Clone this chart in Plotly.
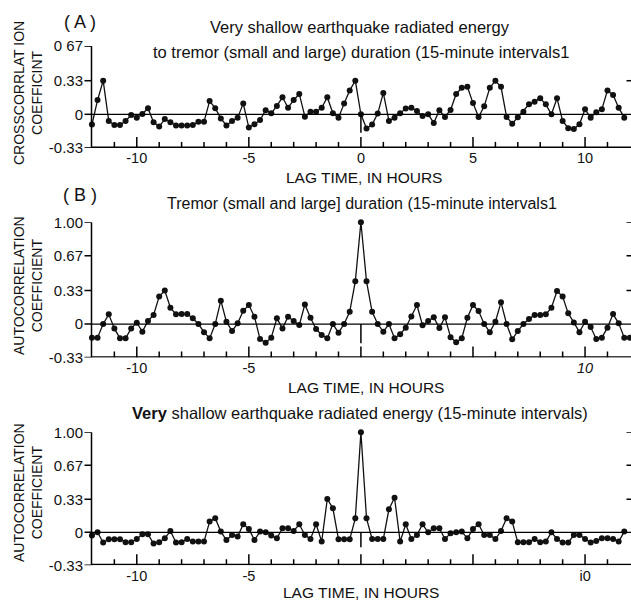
import numpy as np
import plotly.graph_objects as go

W, H = 631, 600

# ---------------- data ----------------
lag_a = np.arange(-12.0, 11.76, 0.25)   # 15-minute lags, hours
lag_b = np.arange(-12.0, 12.01, 0.25)
lag_c = np.arange(-12.0, 11.76, 0.25)

cross_a = [
    -0.10, 0.14, 0.33, -0.065, -0.105, -0.105, -0.065, -0.007, -0.033, 0.003,
    0.06, -0.078, -0.12, -0.046, -0.078, -0.11, -0.11, -0.11, -0.105, -0.072,
    -0.072, 0.13, 0.06, -0.04, -0.11, -0.065, -0.033, 0.105, -0.13, -0.098,
    -0.056, 0.04, 0.01, 0.082, 0.167, 0.065, 0.14, 0.20, -0.023, 0.026,
    0.026, 0.065, 0.167, 0.01, -0.033, 0.105, 0.235, 0.33, 0.0, -0.14,
    -0.10, 0.007, 0.21, -0.065, -0.033, 0.01, 0.056, 0.065, 0.033, -0.016,
    0.0, -0.085, 0.04, -0.026, 0.043, 0.20, 0.26, 0.27, 0.11, -0.026,
    0.078, 0.26, 0.33, 0.27, -0.026, -0.092, -0.03, 0.026, 0.098, 0.124,
    0.157, 0.098, 0.0, 0.157, -0.065, -0.137, -0.144, -0.098, 0.049, -0.033,
    0.02, 0.049, 0.235, 0.19, 0.065, -0.033,
]

auto_b = [
    -0.134, -0.134, 0.0, 0.095, -0.043, -0.141, -0.141, -0.043, 0.013, -0.075,
    0.03, 0.089, 0.27, 0.33, 0.16, 0.095, 0.098, 0.098, 0.056, 0.0,
    -0.08, -0.141, 0.0, 0.23, 0.023, -0.069, 0.007, 0.13, 0.187, 0.072,
    -0.148, -0.184, -0.134, 0.056, -0.043, 0.072, 0.03, -0.01, 0.193, 0.062,
    -0.049, -0.108, -0.141, 0.0, -0.085, 0.0, 0.12, 0.42, 1.00, 0.42,
    0.12, 0.0, -0.075, 0.0, -0.14, -0.10, -0.036, 0.075, 0.187, -0.013,
    0.03, 0.066, -0.04, 0.066, -0.13, -0.18, -0.14, 0.062, 0.187, 0.128,
    0.0, -0.08, 0.023, 0.213, 0.0, -0.15, -0.069, 0.0, 0.05, 0.089,
    0.089, 0.095, 0.16, 0.325, 0.27, 0.105, 0.016, -0.08, 0.023, -0.03,
    -0.148, -0.134, -0.036, 0.098, 0.007, -0.134, -0.134,
]

auto_c = [
    -0.033, 0.0, -0.103, -0.07, -0.07, -0.07, -0.10, -0.10, -0.067, -0.02,
    -0.02, -0.113, -0.10, -0.06, 0.013, -0.103, -0.10, -0.067, -0.093, -0.093,
    -0.093, 0.107, 0.14, 0.007, -0.077, -0.027, -0.043, 0.08, 0.033, -0.077,
    0.007, 0.0, -0.033, -0.06, 0.04, 0.04, 0.013, 0.08, -0.027, -0.067,
    0.08, -0.093, 0.333, 0.24, -0.07, -0.07, -0.07, 0.14, 1.00, 0.14,
    -0.067, -0.067, -0.067, 0.23, 0.345, -0.093, 0.08, -0.067, -0.027, 0.08,
    0.0, 0.04, 0.04, -0.067, -0.01, 0.0, 0.007, -0.06, 0.033, 0.08,
    -0.027, -0.027, -0.067, 0.013, 0.14, 0.107, -0.10, -0.10, -0.10, -0.067,
    -0.10, -0.093, 0.0, -0.067, -0.103, -0.103, -0.027, -0.027, -0.067, -0.103,
    -0.087, -0.06, -0.06, -0.067, -0.093, 0.007,
]

x_tickvals = [-10, -5, 0, 5, 10]
x_minorvals = [-11, -9, -8, -7, -6, -4, -3, -2, -1, 1, 2, 3, 4, 6, 7, 8, 9, 11]
x_ticktext_a = ["-10", "-5", "0", "5", "10"]
x_ticktext_b = ["-10", "-5", "", "", "<i>10</i>"]
x_ticktext_c = ["-10", "-5", "", "", "i0"]

y_tickvals_a = [-0.33, 0, 0.33, 0.67]
y_ticktext_a = ["-0.33", "0", "0.33", "0 67"]
y_tickvals_bc = [-0.33, 0, 0.33, 0.67, 1.0]
y_ticktext_bc = ["-0.33", "0", "0.33", "0.67", "1.00"]

title_a1 = "Very shallow earthquake radiated energy"
title_a2 = "to tremor (small and large) duration (15-minute intervals1"
title_b = "Tremor (small and large] duration (15-minute intervals1"
title_c = "<b>Very</b> shallow earthquake radiated energy (15-minute intervals)"
xlabel = "LAG TIME, IN HOURS"
ylabel_a = "CROSSCORRLAT ION<br>COEFFICINT"
ylabel_bc = "AUTOCORRELATION<br>COEFFICIENT"

# ---------------- figure ----------------
FONT = "Liberation Sans, Arial, Helvetica, sans-serif"
INK = "#111111"
PXH = 22.41                 # pixels per hour
XAX = -12.02                # where the y axis line sits
XR = [XAX - 7.5 / PXH, 12.05]
YLO = -0.33


def pxx(x):
    return x / W


def pyy(y):
    return 1 - y / H


fig = go.Figure()
for lag, vals, xa, ya in [(lag_a, cross_a, "x", "y"),
                          (lag_b, auto_b, "x2", "y2"),
                          (lag_c, auto_c, "x3", "y3")]:
    fig.add_trace(go.Scatter(
        x=lag, y=vals, xaxis=xa, yaxis=ya, mode="lines+markers",
        line=dict(color=INK, width=1.3),
        marker=dict(color=INK, size=6),
        cliponaxis=False, showlegend=False))

xdom = [(91.5 - 7.5) / W, 1.0]


def xaxis(anchor, ticktext):
    return dict(domain=xdom, anchor=anchor, range=XR,
                tickmode="array", tickvals=x_tickvals, ticktext=ticktext,
                ticks="", showline=False,
                showgrid=False, zeroline=False, automargin=False,
                tickfont=dict(family=FONT, size=14.5, color=INK))


def yaxis(anchor, dom, rng, tv, tt):
    return dict(domain=dom, anchor=anchor, range=rng,
                tickmode="array", tickvals=tv, ticktext=tt,
                ticks="", showline=False,
                showgrid=False, zeroline=False, automargin=False,
                tickfont=dict(family=FONT, size=15, color=INK))


dom_a = [pyy(147.9), pyy(46.1)]
dom_b = [pyy(357.6), pyy(222.3)]
dom_c = [pyy(565.3), pyy(432.3)]

fig.update_layout(
    width=W, height=H, margin=dict(l=0, r=0, t=0, b=0),
    paper_bgcolor="white", plot_bgcolor="white", template="none",
    showlegend=False,
    xaxis=xaxis("y", x_ticktext_a),
    xaxis2=xaxis("y2", x_ticktext_b),
    xaxis3=xaxis("y3", x_ticktext_c),
    yaxis=yaxis("x", dom_a, [YLO, 0.67], y_tickvals_a, y_ticktext_a),
    yaxis2=yaxis("x2", dom_b, [YLO, 1.0], y_tickvals_bc, y_ticktext_bc),
    yaxis3=yaxis("x3", dom_c, [YLO, 1.0], y_tickvals_bc, y_ticktext_bc),
)

ann = []


def add_text(text, x, y, size, angle=0):
    ann.append(dict(text=text, x=pxx(x), y=pyy(y), xref="paper", yref="paper",
                    xanchor="center", yanchor="middle", showarrow=False,
                    textangle=angle, font=dict(family=FONT, size=size, color=INK)))


add_text("( A )", 80, 22, 18)
add_text("( B )", 80, 195, 18)
add_text(title_a1, 360, 27, 16.5)
add_text(title_a2, 361, 52, 16.5)
add_text(title_b, 362, 203, 16)
add_text(title_c, 360, 413, 16.5)
add_text(xlabel, 364, 178, 15.5)
add_text(xlabel, 366, 387, 15.5)
add_text(xlabel, 361, 592, 15.5)
add_text(ylabel_a, 28, 93, 14, angle=-90)
add_text(ylabel_bc, 28, 286, 14, angle=-90)
add_text(ylabel_bc, 28, 493, 14, angle=-90)
fig.update_layout(annotations=ann)

# axis frame, zero line and tick marks drawn as data-referenced line shapes
shapes = []
LN = dict(color="black", width=1.5)
panels = [("x", "y", y_tickvals_a, 0.67, [0.33], -0.18, 101.8),
          ("x2", "y2", y_tickvals_bc, 1.0, [0.33, 0.67, 1.0], -0.19, 101.7),
          ("x3", "y3", y_tickvals_bc, 1.0, [0.33, 0.67, 1.0], -0.15, 100.0)]
for xa, ya, ytv, ytop, rticks, zlow, pxu in panels:
    ybase = YLO + 0.7 / pxu
    # bottom axis line
    shapes.append(dict(type="line", xref=xa, yref=ya, x0=XAX, x1=XR[1],
                       y0=ybase, y1=ybase, line=LN))
    # left axis line
    shapes.append(dict(type="line", xref=xa, yref=ya, x0=XAX, x1=XAX,
                       y0=YLO, y1=ytop, line=LN))
    # zero line
    shapes.append(dict(type="line", xref=xa, yref=ya, x0=XAX, x1=XR[1],
                       y0=0, y1=0, line=dict(color="black", width=1.3)))
    # x ticks pointing up from the bottom axis
    for v in x_tickvals:
        shapes.append(dict(type="line", xref=xa, yref=ya, x0=v, x1=v,
                           y0=YLO, y1=YLO + 11 / pxu, line=LN))
    for v in x_minorvals:
        shapes.append(dict(type="line", xref=xa, yref=ya, x0=v, x1=v,
                           y0=YLO, y1=YLO + 6 / pxu, line=LN))
    # y ticks to the left of the axis line
    for v in ytv:
        shapes.append(dict(type="line", xref=xa, yref=ya, x0=XAX - 7 / PXH, x1=XAX,
                           y0=v, y1=v, line=LN))
    # small right-hand ticks
    for v in rticks:
        shapes.append(dict(type="line", xref=xa, yref=ya, x0=XR[1] - 4.5 / PXH,
                           x1=XR[1], y0=v, y1=v, line=LN))
    # short line at zero lag below the zero line
    shapes.append(dict(type="line", xref=xa, yref=ya, x0=0, x1=0, y0=0, y1=zlow,
                       line=LN))
fig.update_layout(shapes=shapes)

fig.write_html("out.html")
